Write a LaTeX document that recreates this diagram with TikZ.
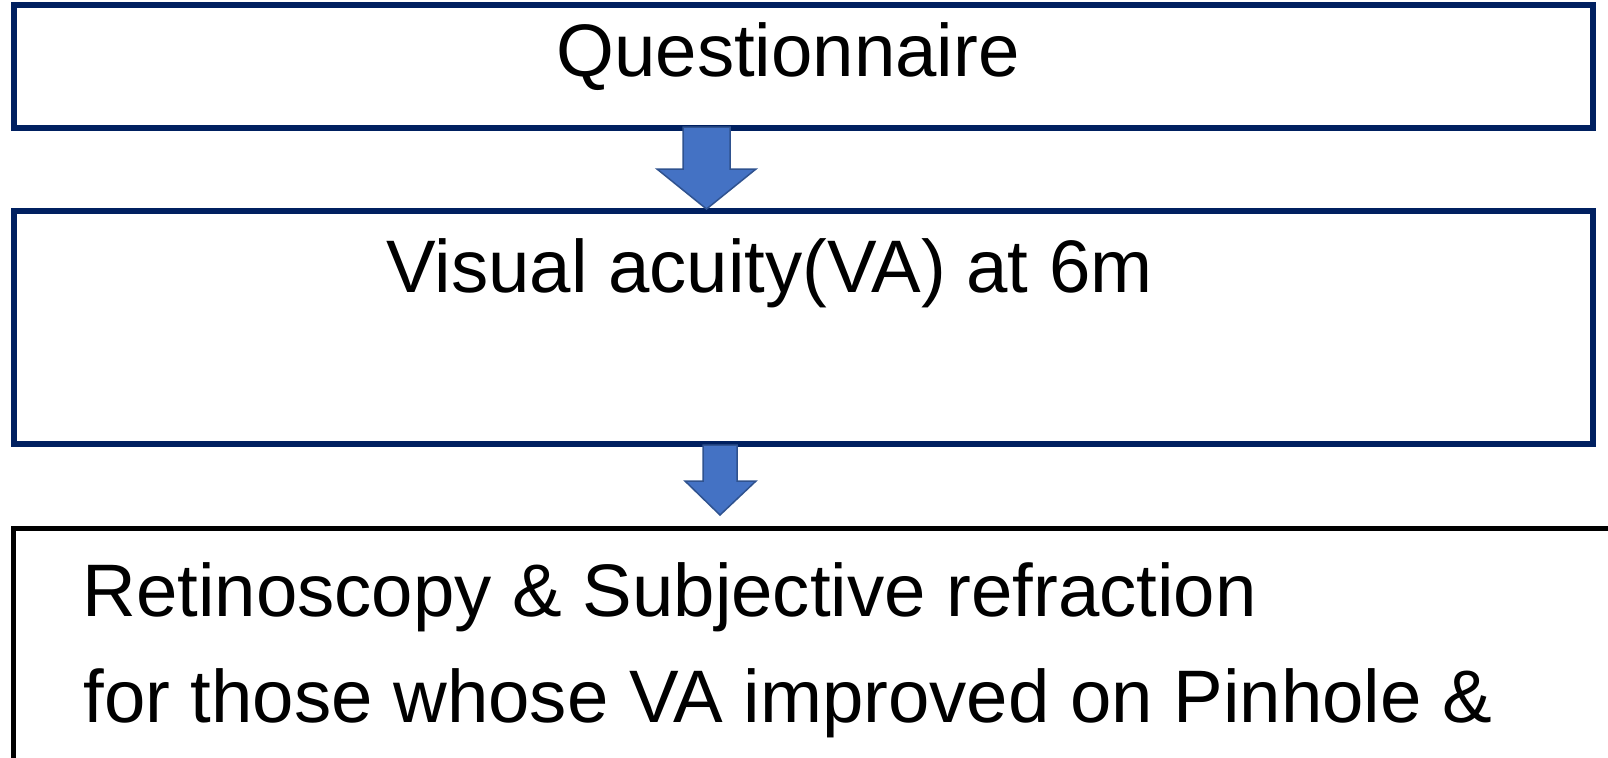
\documentclass[tikz,border=0pt]{standalone}
\usepackage{fontspec}
\setmainfont{Liberation Sans}
\usetikzlibrary{calc}
\definecolor{boxnavy}{HTML}{002060}
\definecolor{arrowfill}{HTML}{4472C4}
\definecolor{arrowline}{HTML}{2F528F}
\begin{document}
\begin{tikzpicture}[x=0.5pt,y=-0.5pt,
  navybox/.style={draw=boxnavy,line width=3pt,fill=none,inner sep=0pt,outer sep=0pt,rectangle},
  label/.style={inner sep=0pt,anchor=base west,font=\fontsize{37.2pt}{53pt}\selectfont},
  blockarrow/.style={fill=arrowfill,draw=arrowline,line width=0.75pt,line join=miter}]
\useasboundingbox (0,0) rectangle (1608,757);
\clip (0,0) rectangle (1608,757);
\fill[white] (0,0) rectangle (1608,757);
% boxes
\node[navybox,minimum width=789.5pt,minimum height=61.5pt] (qbox) at (803.5,66.5) {};
\node[navybox,minimum width=789.5pt,minimum height=116.75pt] (vbox) at (803.5,327.25) {};
\node[draw=black,line width=2.5pt,rectangle,inner sep=0pt,outer sep=0pt,minimum width=900pt,minimum height=200pt,anchor=north west] (rbox) at (13.5,528.5) {};
% texts
\node[label] (q) at (556,76.5) {Questionnaire};
\node[label] (v) at (386,292.5) {Visual acuity(VA) at 6m};
\node[label] (r1) at (82,616) {Retinoscopy \& Subjective refraction};
\node[label] (r2) at (83,722.5) {for those whose VA improved on Pinhole \&};
% block arrows
\coordinate (q-s) at (qbox.south -| 706.5,0);
\coordinate (v-n) at (vbox.north -| 706.5,0);
\coordinate (v-s) at (vbox.south -| 720,0);
\coordinate (r-n) at (rbox.north -| 720,0);
\draw[blockarrow] ($(q-s)+(-23.5,-1)$) -- ($(q-s)+(23.5,-1)$) -- ($(q-s)+(23.5,41)$)
  -- ($(q-s)+(49.5,41)$) -- ($(v-n)+(0,-1.5)$) -- ($(q-s)+(-49.5,41)$)
  -- ($(q-s)+(-23.5,41)$) -- cycle;
\draw[blockarrow] ($(v-s)+(-17,1)$) -- ($(v-s)+(17,1)$) -- ($(v-s)+(17,37)$)
  -- ($(v-s)+(36,37)$) -- ($(r-n)+(0,-13.5)$) -- ($(v-s)+(-35,37)$)
  -- ($(v-s)+(-17,37)$) -- cycle;
\end{tikzpicture}
\end{document}
